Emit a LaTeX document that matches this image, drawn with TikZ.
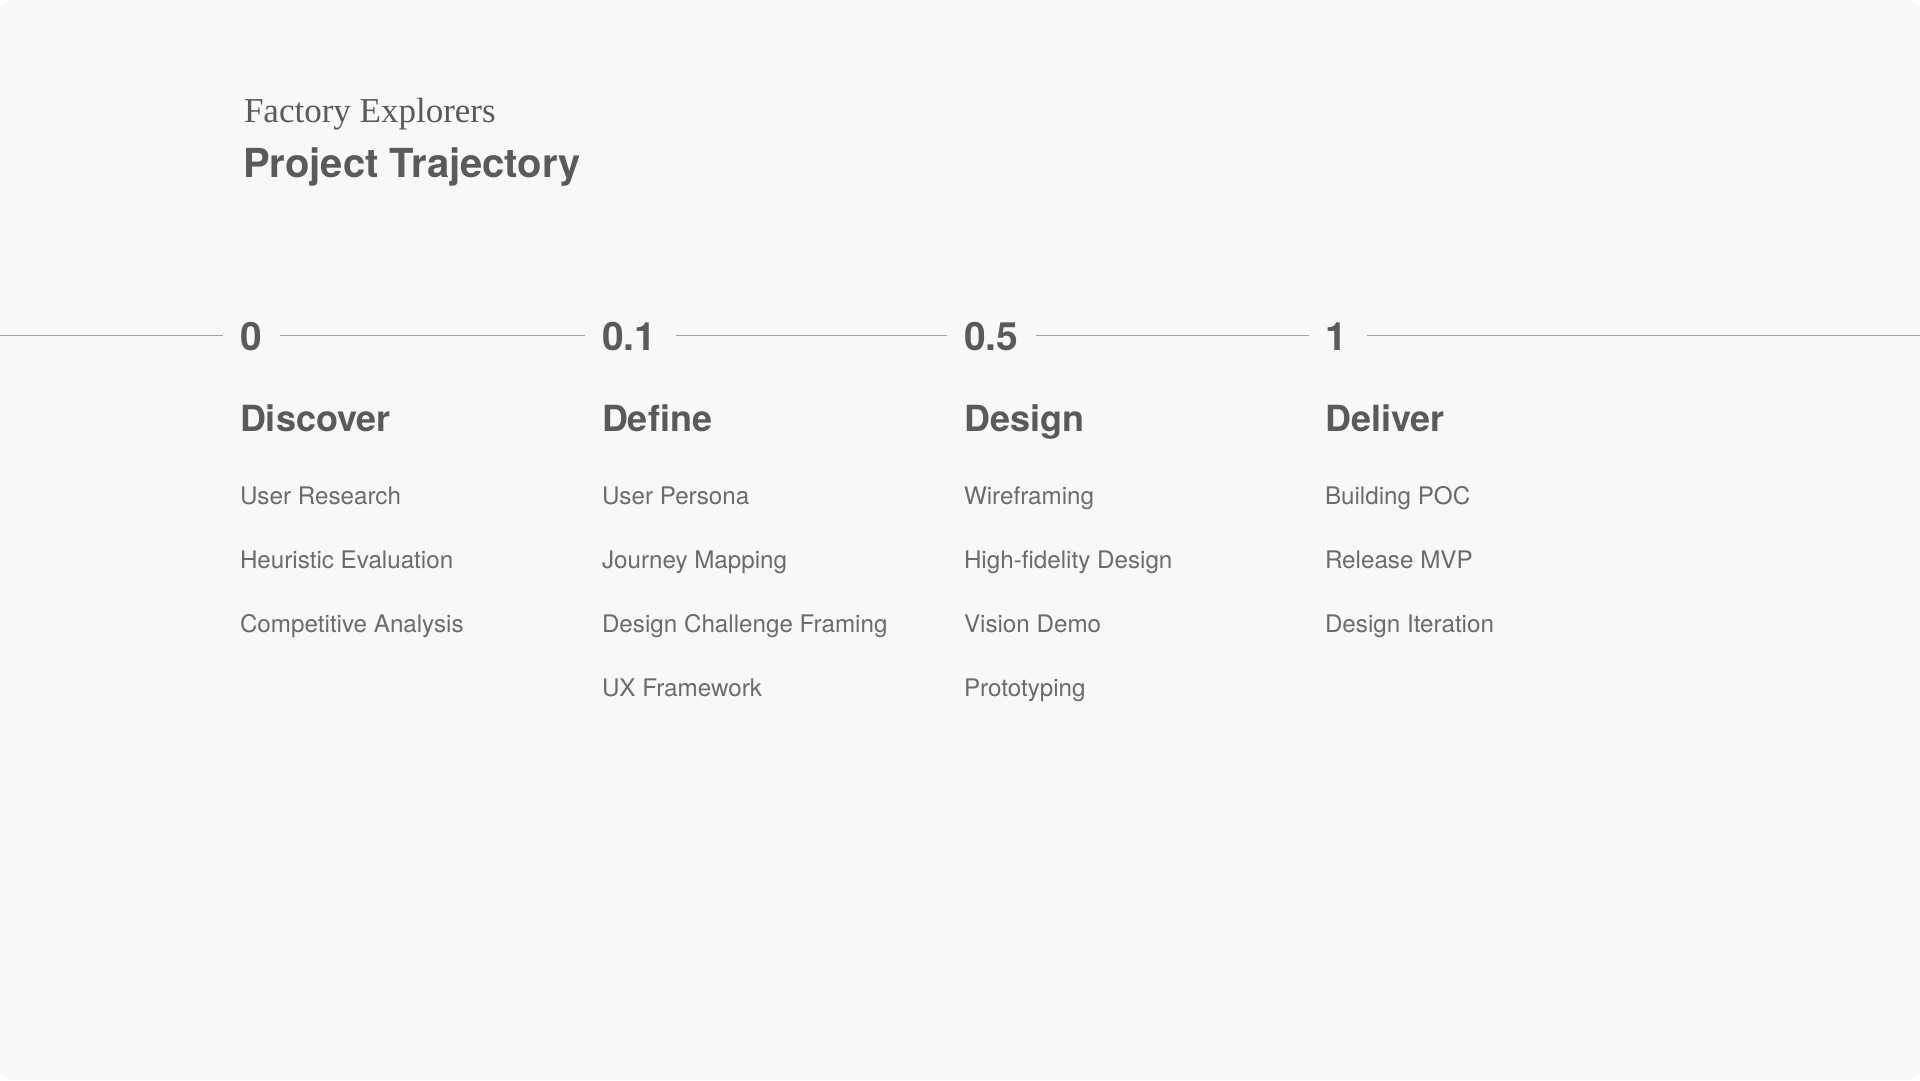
\documentclass[tikz,border=0pt]{standalone}
\usepackage{fontspec}
\setmainfont{TeX Gyre Heros}
\newfontfamily\serifttl{Liberation Serif}
\definecolor{bgc}{HTML}{F9F8F6}
\definecolor{txt}{HTML}{5B5A58}
\definecolor{itm}{HTML}{6C6B69}
\definecolor{lne}{HTML}{A3A29F}
\tikzset{
  base/.style={anchor=base west, inner sep=0pt, outer sep=0pt},
  suptitle/.style={base, text=txt, font=\serifttl\fontsize{35}{40}\selectfont},
  maintitle/.style={base, text=txt, font=\bfseries\fontsize{40}{48}\selectfont},
  num/.style={base, text=txt, font=\bfseries\fontsize{39}{44}\selectfont},
  phase/.style={base, text=txt, font=\bfseries\fontsize{36}{40}\selectfont},
  item/.style={base, text=itm, font=\fontsize{24.2}{28}\selectfont},
  tl/.style={draw=lne, line width=1.4pt}
}
\begin{document}
\begin{tikzpicture}[x=1pt,y=-1pt]
\useasboundingbox (0,0) rectangle (1920,1080);
\fill[white] (0,0) rectangle (1920,1080);
\fill[bgc, rounded corners=14pt] (0,0) rectangle (1920,1080);

\node[suptitle] (sup) at (244,122) {Factory Explorers};
\node[maintitle] (ttl) at (243,177) {Project Trajectory};

% timeline numbers
\node[num] (n0) at (240,350.7) {0};
\node[num] (n1) at (602,350.7) {0.1};
\node[num] (n2) at (964,350.7) {0.5};
\node[num] (n3) at (1325,350.7) {1};

\coordinate (L) at (0,335.7);
\coordinate (R) at (1920,335.7);
\draw[tl, shorten >=17pt] (L) -- (L -| n0.west);
\draw[tl, shorten <=18pt, shorten >=17pt] (L -| n0.east) -- (L -| n1.west);
\draw[tl, shorten <=20pt, shorten >=17pt] (L -| n1.east) -- (L -| n2.west);
\draw[tl, shorten <=18pt, shorten >=16pt] (L -| n2.east) -- (L -| n3.west);
\draw[tl, shorten <=20pt] (L -| n3.east) -- (R);

% phases
\node[phase] (p0) at (240,431) {Discover};
\node[phase] (p1) at (602,431) {Define};
\node[phase] (p2) at (964,431) {Design};
\node[phase] (p3) at (1325,431) {Deliver};

% items
\node[item] (a1) at (240,504) {User Research};
\node[item] (a2) at (240,568) {Heuristic Evaluation};
\node[item] (a3) at (240,632) {Competitive Analysis};

\node[item] (b1) at (602,504) {User Persona};
\node[item] (b2) at (602,568) {Journey Mapping};
\node[item] (b3) at (602,632) {Design Challenge Framing};
\node[item] (b4) at (602,696) {UX Framework};

\node[item] (c1) at (964,504) {Wireframing};
\node[item] (c2) at (964,568) {High-fidelity Design};
\node[item] (c3) at (964,632) {Vision Demo};
\node[item] (c4) at (964,696) {Prototyping};

\node[item] (d1) at (1325,504) {Building POC};
\node[item] (d2) at (1325,568) {Release MVP};
\node[item] (d3) at (1325,632) {Design Iteration};
\end{tikzpicture}
\end{document}
